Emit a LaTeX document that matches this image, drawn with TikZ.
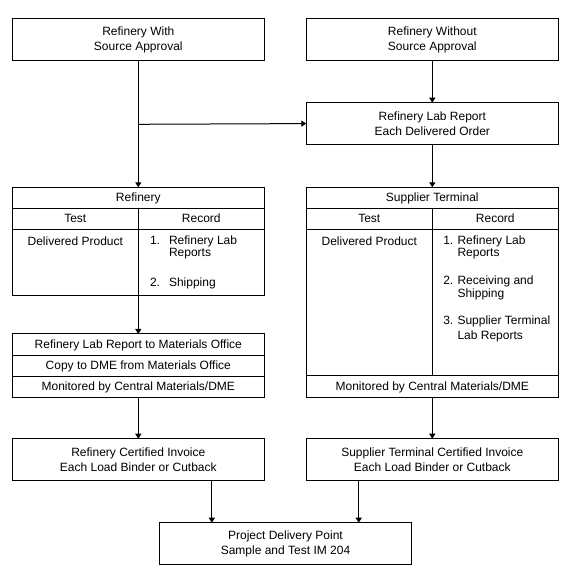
\documentclass[tikz,border=0pt]{standalone}
\usepackage{fontspec}
\setmainfont{Liberation Sans}
\usetikzlibrary{arrows.meta}
\begin{document}
\begin{tikzpicture}[x=0.75pt,y=-0.75pt,
  line width=0.75pt,
  every node/.style={font=\fontsize{9}{11}\selectfont, inner sep=0pt, outer sep=0pt},
  box/.style={draw, rectangle, align=center, minimum width=189pt, minimum height=31.3pt},
  wcell/.style={draw, rectangle, minimum width=189pt, minimum height=#1, text height=7pt, text depth=1.75pt},
  hcell/.style={draw, rectangle, minimum width=94.5pt, minimum height=#1, text height=7pt, text depth=1.75pt},
  txt/.style={anchor=base},
  itm/.style={anchor=base west},
  arr/.style={-{Triangle[width=4.5pt,length=3.75pt]}},
  ]
\useasboundingbox (0,0) rectangle (570,577);
\fill[white] (0,0) rectangle (570,577);

% top boxes
\node[box] (withA) at (138.3,39.6) {Refinery With\\Source Approval};
\node[box] (withoutA) at (432.3,39.6) {Refinery Without\\Source Approval};
\node[box] (labrep) at (432.3,123.6) {Refinery Lab Report\\Each Delivered Order};

% refinery table
\node[wcell=15.75pt] (refH) at (138.3,197.8) {Refinery};
\node[hcell=15.75pt] (refT) at (75.3,218.8) {Test};
\node[hcell=15.75pt] (refR) at (201.3,218.8) {Record};
\node[hcell=50pt] (refB1) at (75.3,262.65) {};
\node[hcell=50pt] (refB2) at (201.3,262.65) {};
\node[txt] (refDP) at (75.3,245.5) {Delivered Product};
\node[itm] (refN1) at (150,244.7) {1.};
\node[itm] (refI1a) at (169,244.7) {Refinery Lab};
\node[itm] (refI1b) at (169,256.7) {Reports};
\node[itm] (refN2) at (150,286.7) {2.};
\node[itm] (refI2) at (169,286.7) {Shipping};

% supplier table
\node[wcell=15.75pt] (supH) at (432.3,197.8) {Supplier Terminal};
\node[hcell=15.75pt] (supT) at (369.3,218.8) {Test};
\node[hcell=15.75pt] (supR) at (495.3,218.8) {Record};
\node[hcell=110pt] (supB1) at (369.3,302.65) {};
\node[hcell=110pt] (supB2) at (495.3,302.65) {};
\node[wcell=16pt] (supF) at (432.3,386.65) {Monitored by Central Materials/DME};
\node[txt] (supDP) at (369.3,245.5) {Delivered Product};
\node[itm] (supN1) at (443.3,244.7) {1.};
\node[itm] (supI1a) at (457.5,244.7) {Refinery Lab};
\node[itm] (supI1b) at (457.5,256.7) {Reports};
\node[itm] (supN2) at (443.3,284.3) {2.};
\node[itm] (supI2a) at (457.5,284.3) {Receiving and};
\node[itm] (supI2b) at (457.5,297) {Shipping};
\node[itm] (supN3) at (443.3,324.5) {3.};
\node[itm] (supI3a) at (457.5,324.5) {Supplier Terminal};
\node[itm] (supI3b) at (457.5,339.3) {Lab Reports};

% stacked refinery box
\node[wcell=16pt] (stk1) at (138.3,344.65) {Refinery Lab Report to Materials Office};
\node[wcell=15.75pt] (stk2) at (138.3,365.8) {Copy to DME from Materials Office};
\node[wcell=15.75pt] (stk3) at (138.3,386.8) {Monitored by Central Materials/DME};

% invoices
\node[box] (invL) at (138.3,459.6) {Refinery Certified Invoice\\Each Load Binder or Cutback};
\node[box] (invR) at (432.3,459.6) {Supplier Terminal Certified Invoice\\Each Load Binder or Cutback};

% bottom
\node[box] (bot) at (285.5,543.6) {Project Delivery Point\\Sample and Test IM 204};

% connectors
\coordinate (br) at (138.3,124.3);
\draw[arr] (withA.south) -- (refH.north);
\draw[arr] (br) -- (labrep.west);
\draw[arr] (withoutA.south) -- (labrep.north);
\draw[arr] (labrep.south) -- (supH.north);
\draw[arr] (refB1.south east) -- (stk1.north);
\draw[arr] (stk3.south) -- (invL.north);
\draw[arr] (supF.south) -- (invR.north);
\path (bot.north) ++(-73.7,0) coordinate (b1);
\path (bot.north) ++(73.2,0) coordinate (b2);
\draw[arr] (b1 |- invL.south) -- (b1);
\draw[arr] (b2 |- invR.south) -- (b2);
\end{tikzpicture}
\end{document}
